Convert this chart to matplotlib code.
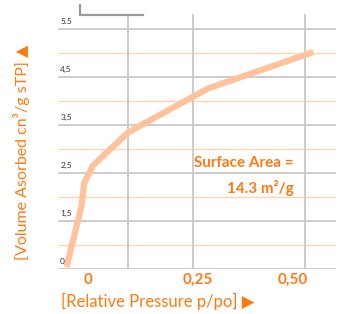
import matplotlib
matplotlib.use("Agg")
import matplotlib.pyplot as plt
from matplotlib.lines import Line2D

# Isotherm
pressure = [-0.052, -0.016, -0.014, -0.009, 0.013, 0.099, 0.293, 0.55]
volume = [0.04, 1.30, 1.42, 1.79, 2.16, 2.85, 3.76, 4.52]

ytick_pos = [0, 1, 2, 3, 4, 5]
ytick_labels = ["0", "1,5", "2,5", "3,5", "4,5", "5.5"]
minor_pos = [0.5, 1.5, 2.5, 3.5, 4.5]
xtick_pos = [0, 0.268, 0.5]
xtick_labels = ["0", "0,25", "0,50"]
vlines = [0.099, 0.257, 0.53]

ORANGE = "#FF7A12"
LINE = "#FFC29C"
GRAY = "#C8C8C8"
FONT = ["Lato", "DejaVu Sans"]


def main():
    plt.rcParams["font.family"] = FONT
    fig = plt.figure(figsize=(3.39, 3.14), dpi=100)
    ax = fig.add_axes([0.171, 0.144, 0.82, 0.811])

    # grid lines
    for y in ytick_pos:
        ax.axhline(y, color=GRAY, lw=1.3, zorder=1)
    for y in minor_pos:
        ax.axhline(y, color="#FFD3B5", lw=1.0, zorder=1)
    for x in vlines:
        ax.axvline(x, color=GRAY, lw=1.3, zorder=1)

    # data
    ax.plot(pressure, volume, color=LINE, lw=4.5, solid_capstyle="butt",
            solid_joinstyle="miter", zorder=3)

    ax.set_xlim(-0.073, 0.605)
    ax.set_ylim(0, 5.31)

    for y, lab in zip(ytick_pos, ytick_labels):
        ax.text(0.008, y + 0.08, lab, transform=ax.get_yaxis_transform(),
                fontsize=6, color="#333333", ha="left", va="bottom")

    ax.set_xticks(xtick_pos)
    ax.set_xticklabels(xtick_labels, fontsize=11, fontweight="bold", color=ORANGE)
    ax.tick_params(axis="x", length=0, pad=3)
    ax.set_yticks([])
    for s in ax.spines.values():
        s.set_visible(False)

    ax.text(0.502, 2.2, "Surface Area =", fontsize=11, fontweight="bold",
            color=ORANGE, ha="right", va="center", zorder=4)
    ax.text(0.502, 1.68, "14.3 m\u00b2/g", fontsize=11, fontweight="bold",
            color=ORANGE, ha="right", va="center", zorder=4)

    fig.text(157.5 / 339, 1 - 301.7 / 314, "[Relative Pressure p/po] \u25b6",
             fontsize=12, color=ORANGE, ha="center", va="center")
    fig.text(22 / 339, 1 - 152 / 314, "[Volume Asorbed cn\u00b3/g sTP] \u25b2",
             fontsize=11.5, color=ORANGE, ha="center", va="center",
             rotation=90)

    # small bracket at the top
    fig.add_artist(Line2D([80 / 339, 80 / 339, 143 / 339],
                          [1 - 5 / 314, 1 - 15 / 314, 1 - 15 / 314],
                          color="#9A9A9A", lw=1.6))

    fig.savefig("out.png", dpi=100)


if __name__ == "__main__":
    main()
